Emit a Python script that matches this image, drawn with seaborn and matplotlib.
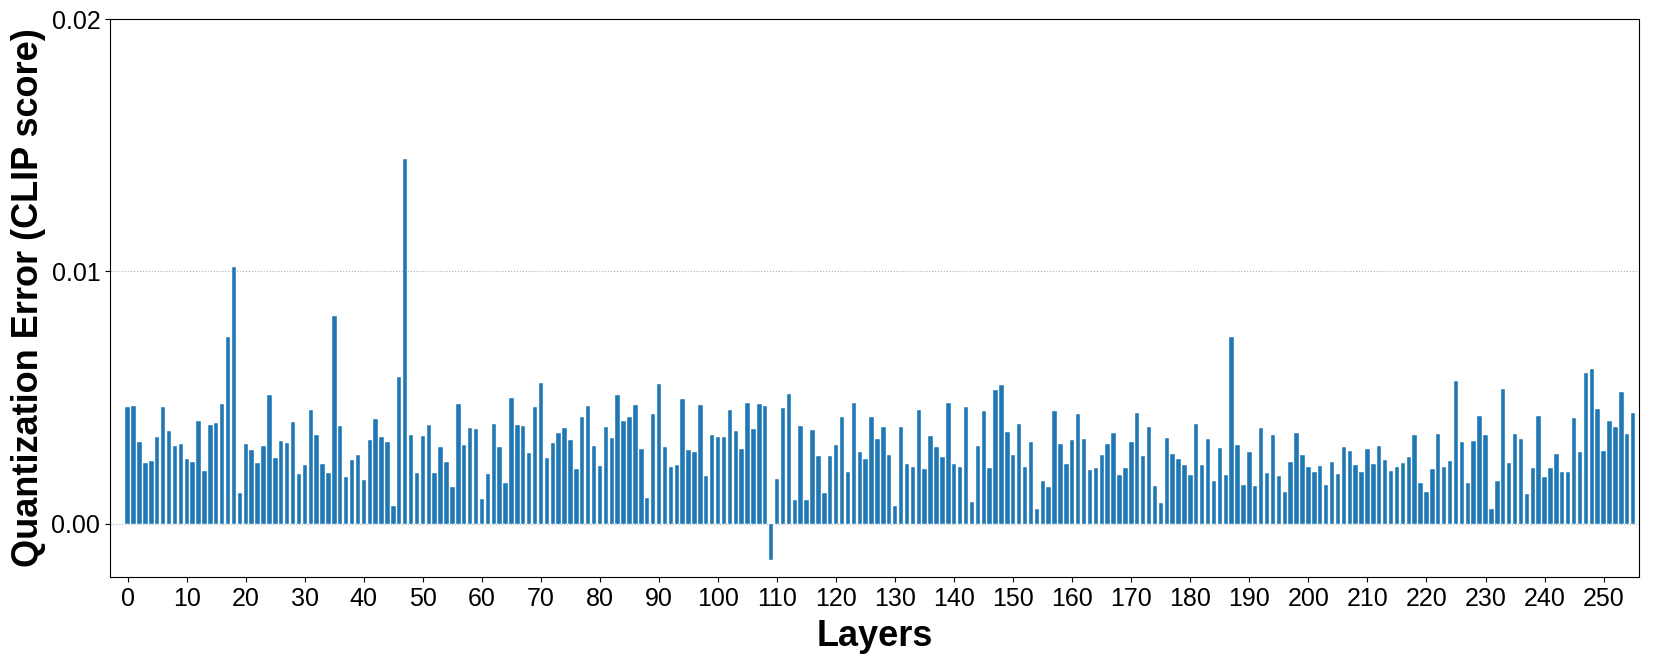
import numpy as np
import pandas as pd
import matplotlib
matplotlib.use('Agg')
import matplotlib.pyplot as plt
import seaborn as sns

# quantization error per layer (CLIP score)
errors_0_63 = [
    0.00462, 0.00468, 0.00326, 0.00240, 0.00251, 0.00343, 0.00464, 0.00367,
    0.00310, 0.00317, 0.00257, 0.00245, 0.00408, 0.00210, 0.00391, 0.00398,
    0.00475, 0.00740, 0.01017, 0.00123, 0.00315, 0.00292, 0.00241, 0.00307,
    0.00509, 0.00263, 0.00327, 0.00322, 0.00404, 0.00199, 0.00232, 0.00450,
    0.00354, 0.00239, 0.00203, 0.00824, 0.00389, 0.00187, 0.00252, 0.00274,
    0.00173, 0.00334, 0.00414, 0.00343, 0.00323, 0.00070, 0.00582, 0.01445,
    0.00354, 0.00201, 0.00348, 0.00391, 0.00203, 0.00303, 0.00244, 0.00145,
    0.00474, 0.00311, 0.00381, 0.00375, 0.00099, 0.00199, 0.00397, 0.00305,
]
errors_64_127 = [
    0.00164, 0.00499, 0.00393, 0.00388, 0.00280, 0.00464, 0.00559, 0.00261,
    0.00319, 0.00360, 0.00381, 0.00331, 0.00219, 0.00425, 0.00468, 0.00307,
    0.00231, 0.00383, 0.00342, 0.00511, 0.00406, 0.00422, 0.00472, 0.00296,
    0.00103, 0.00434, 0.00553, 0.00306, 0.00227, 0.00232, 0.00495, 0.00292,
    0.00286, 0.00472, 0.00191, 0.00352, 0.00344, 0.00344, 0.00453, 0.00369,
    0.00298, 0.00480, 0.00375, 0.00476, 0.00466, -0.00141, 0.00178, 0.00460,
    0.00515, 0.00094, 0.00387, 0.00094, 0.00373, 0.00269, 0.00124, 0.00269,
    0.00314, 0.00423, 0.00204, 0.00480, 0.00285, 0.00256, 0.00422, 0.00336,
]
errors_128_191 = [
    0.00383, 0.00272, 0.00070, 0.00385, 0.00237, 0.00227, 0.00451, 0.00216,
    0.00347, 0.00306, 0.00264, 0.00480, 0.00239, 0.00226, 0.00463, 0.00086,
    0.00307, 0.00449, 0.00223, 0.00532, 0.00551, 0.00364, 0.00272, 0.00397,
    0.00224, 0.00323, 0.00058, 0.00169, 0.00145, 0.00446, 0.00318, 0.00237,
    0.00334, 0.00434, 0.00335, 0.00212, 0.00223, 0.00272, 0.00315, 0.00361,
    0.00194, 0.00223, 0.00325, 0.00441, 0.00269, 0.00385, 0.00150, 0.00084,
    0.00339, 0.00277, 0.00256, 0.00232, 0.00194, 0.00397, 0.00234, 0.00335,
    0.00169, 0.00299, 0.00193, 0.00740, 0.00313, 0.00154, 0.00286, 0.00152,
]
errors_192_255 = [
    0.00381, 0.00202, 0.00351, 0.00189, 0.00128, 0.00247, 0.00359, 0.00272,
    0.00224, 0.00204, 0.00228, 0.00154, 0.00247, 0.00197, 0.00303, 0.00288,
    0.00235, 0.00207, 0.00297, 0.00236, 0.00310, 0.00255, 0.00208, 0.00227,
    0.00243, 0.00266, 0.00354, 0.00161, 0.00125, 0.00219, 0.00356, 0.00224,
    0.00248, 0.00565, 0.00326, 0.00162, 0.00328, 0.00426, 0.00351, 0.00059,
    0.00169, 0.00536, 0.00243, 0.00356, 0.00335, 0.00120, 0.00222, 0.00429,
    0.00187, 0.00220, 0.00278, 0.00207, 0.00207, 0.00421, 0.00284, 0.00596,
    0.00615, 0.00455, 0.00289, 0.00408, 0.00383, 0.00524, 0.00355, 0.00441,
]

errors = errors_0_63 + errors_64_127 + errors_128_191 + errors_192_255
layers = list(range(len(errors)))
x_ticks = list(range(0, 251, 10))
y_ticks = [0.0, 0.01, 0.02]
y_tick_labels = ['0.00', '0.01', '0.02']

df = pd.DataFrame({'Layer': layers, 'Error': errors})

sns.set_style('ticks')
plt.rcParams['font.family'] = ['Liberation Sans', 'DejaVu Sans']
plt.rcParams['text.color'] = 'black'
plt.rcParams['axes.labelcolor'] = 'black'
plt.rcParams['xtick.color'] = 'black'
plt.rcParams['ytick.color'] = 'black'

fig, ax = plt.subplots(figsize=(16.6, 6.6), dpi=100)
fig.subplots_adjust(left=110 / 1660, right=1639 / 1660, top=1 - 19 / 660, bottom=1 - 577 / 660)

sns.barplot(data=df, x='Layer', y='Error', native_scale=True, color='#1f77b4',
            saturation=1, width=0.75, edgecolor='white', linewidth=0.3, ax=ax, zorder=3)

ax.yaxis.grid(True, linestyle=':', color='#b0b0b0', linewidth=0.8, zorder=0)
ax.set_axisbelow(True)

ax.set_xlim(-3, 256)
ax.set_ylim(-0.0021, 0.02)
ax.set_xticks(x_ticks)
ax.set_xticklabels([str(t) for t in x_ticks], fontsize=18)
ax.set_yticks(y_ticks)
ax.set_yticklabels(y_tick_labels, fontsize=18)

ax.set_xlabel('Layers', fontsize=26, fontweight='bold', labelpad=6)
ax.set_ylabel('Quantization Error (CLIP score)', fontsize=26, fontweight='bold')

for s in ax.spines.values():
    s.set_color('black')
    s.set_linewidth(0.8)

fig.savefig('out.png', dpi=100)
